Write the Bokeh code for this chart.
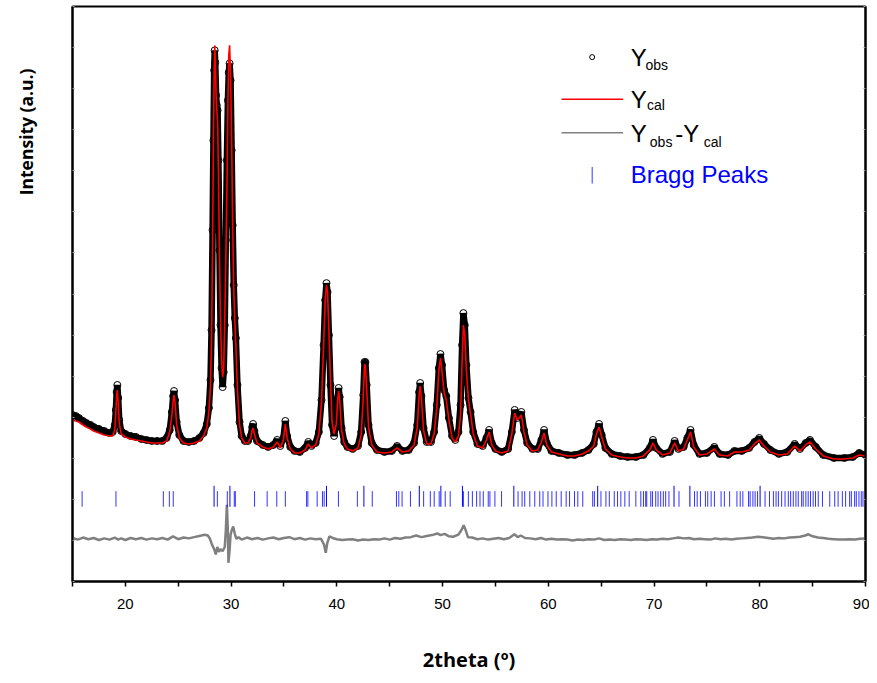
from bokeh.plotting import figure
from bokeh.models import Range1d, FixedTicker, SingleIntervalTicker, LinearAxis, Title
from bokeh.embed import file_html
from bokeh.resources import INLINE
from bokeh.core.properties import value

# ---------------- data ----------------
two_theta = [15.0, 15.3, 15.6, 16.0, 16.3, 16.7, 17.0, 17.5, 18.0, 18.5, 18.8, 19.0, 19.1, 19.18, 19.24, 19.32, 19.42, 19.6,
             20.0, 20.5, 21.0, 21.5, 22.0, 22.5, 23.0, 23.5, 23.9, 24.2, 24.4, 24.52, 24.6, 24.7, 24.85, 25.1, 25.5, 26.0,
             26.5, 27.0, 27.4, 27.7, 27.9, 28.05, 28.15, 28.25, 28.33, 28.4, 28.45, 28.5, 28.58, 28.65, 28.72, 28.8, 28.9,
             29.0, 29.1, 29.2, 29.3, 29.4, 29.5, 29.6, 29.7, 29.78, 29.86, 29.95, 30.05, 30.15, 30.25, 30.35, 30.45, 30.6,
             30.8, 31.0, 31.3, 31.6, 31.85, 32.0, 32.08, 32.2, 32.45, 33.0, 33.5, 34.0, 34.35, 34.65, 34.95, 35.13, 35.3,
             35.6, 36.0, 36.5, 37.0, 37.3, 37.6, 38.0, 38.3, 38.55, 38.75, 38.9, 39.02, 39.12, 39.25, 39.4, 39.55, 39.74,
             39.95, 40.08, 40.17, 40.27, 40.45, 40.7, 41.0, 41.5, 42.0, 42.3, 42.5, 42.62, 42.7, 42.82, 43.0, 43.3, 43.8,
             44.5, 45.2, 45.7, 46.2, 46.8, 47.3, 47.6, 47.78, 47.88, 48.0, 48.2, 48.5, 48.9, 49.2, 49.45, 49.65, 49.8,
             49.95, 50.15, 50.35, 50.6, 50.9, 51.2, 51.5, 51.7, 51.85, 51.97, 52.1, 52.25, 52.45, 52.65, 52.9, 53.3, 53.8,
             54.15, 54.4, 54.65, 55.0, 55.6, 56.2, 56.55, 56.82, 57.05, 57.25, 57.45, 57.7, 58.0, 58.5, 59.0, 59.35, 59.6,
             59.85, 60.3, 61.0, 61.8, 62.5, 63.2, 63.8, 64.3, 64.55, 64.8, 65.05, 65.4, 66.0, 66.8, 67.5, 68.3, 69.0, 69.6,
             69.9, 70.2, 70.8, 71.5, 71.95, 72.3, 72.8, 73.15, 73.45, 73.75, 74.3, 75.0, 75.7, 76.2, 77.0, 77.6, 78.3, 79.0,
             79.5, 79.95, 80.4, 81.0, 81.8, 82.6, 83.3, 83.8, 84.35, 84.75, 85.3, 86.0, 87.0, 88.0, 88.8, 89.4, 90.0]

y_obs = [4054, 4030, 3981, 3908, 3860, 3811, 3762, 3714, 3665, 3616, 3641, 3811, 4176, 4613, 4784, 4468, 3933, 3665,
         3592, 3543, 3519, 3471, 3446, 3422, 3422, 3422, 3495, 3689, 4127, 4516, 4638, 4419, 3884, 3568, 3422, 3397,
         3422, 3495, 3616, 3835, 4224, 4905, 6121, 8553, 10742, 12445, 12931, 12639, 11837, 11593, 11472, 10256, 8067,
         6243, 5198, 4735, 5100, 6243, 8310, 10256, 11715, 12396, 12615, 12201, 10499, 8675, 7216, 6413, 5927, 4784,
         3884, 3543, 3422, 3422, 3543, 3762, 3835, 3665, 3422, 3325, 3276, 3325, 3446, 3300, 3495, 3908, 3543,
         3276, 3179, 3154, 3252, 3397, 3300, 3373, 3641, 4419, 5757, 6851, 7264, 7045, 6000, 4784, 3811, 3543,
         3884, 4468, 4711, 4492, 3738, 3397, 3276, 3227, 3300, 3641, 4541, 5343, 5343, 4784, 3811, 3373, 3203,
         3154, 3179, 3300, 3179, 3203, 3373, 3811, 4613, 4832, 4516, 3738, 3397, 3397, 3641, 4297, 5198, 5538,
         5270, 4662, 4516, 3981, 3543, 3446, 3641, 4297, 5757, 6535, 6243, 5270, 4468, 4127, 3641, 3349, 3300,
         3495, 3689, 3373, 3227, 3154, 3227, 3641, 4176, 3981, 4030, 4127, 3689, 3373, 3227, 3227, 3446, 3689,
         3373, 3179, 3130, 3081, 3081, 3130, 3203, 3349, 3641, 3835, 3568, 3252, 3106, 3057, 3033, 3033, 3081, 3252,
         3446, 3252, 3106, 3154, 3422, 3227, 3276, 3495, 3689, 3325, 3106, 3130, 3276, 3106, 3081, 3179, 3179, 3252,
         3397, 3495, 3349, 3203, 3106, 3154, 3349, 3227, 3373, 3446, 3276, 3081, 3008, 3008, 3033, 3130, 3081]

y_cal = [3933, 3908, 3884, 3811, 3762, 3714, 3665, 3616, 3568, 3543, 3543, 3689, 4127, 4541, 4662, 4370, 3860, 3592,
         3519, 3471, 3446, 3422, 3397, 3373, 3373, 3373, 3422, 3641, 4054, 4419, 4541, 4346, 3811, 3495, 3373, 3349,
         3373, 3422, 3543, 3738, 4127, 4784, 5878, 8310, 10742, 12445, 13053, 12809, 11837, 11472, 11229, 10013, 7945,
         6365, 5392, 4978, 5198, 6365, 7824, 9405, 11715, 12809, 13053, 12323, 10742, 8675, 7094, 6365, 5757, 4662,
         3811, 3495, 3373, 3373, 3495, 3689, 3738, 3592, 3373, 3276, 3227, 3276, 3397, 3252, 3446, 3835, 3495,
         3227, 3130, 3130, 3203, 3349, 3252, 3325, 3592, 4370, 5757, 6851, 7216, 7045, 6121, 4905, 3884, 3592,
         3835, 4419, 4638, 4419, 3689, 3349, 3227, 3179, 3252, 3568, 4468, 5295, 5246, 4711, 3762, 3325, 3154,
         3130, 3154, 3252, 3154, 3179, 3325, 3738, 4541, 4760, 4468, 3689, 3349, 3349, 3592, 4224, 5149, 5440,
         5100, 4589, 4419, 3933, 3495, 3397, 3543, 4054, 5392, 6243, 6000, 5149, 4419, 4079, 3592, 3300, 3252,
         3446, 3641, 3325, 3179, 3130, 3179, 3592, 4103, 3933, 3981, 4054, 3641, 3325, 3179, 3203, 3397, 3616,
         3325, 3154, 3106, 3057, 3057, 3106, 3179, 3300, 3592, 3762, 3519, 3227, 3081, 3033, 3008, 3008, 3057, 3203,
         3373, 3203, 3081, 3130, 3373, 3179, 3227, 3446, 3641, 3276, 3081, 3106, 3227, 3081, 3057, 3154, 3154, 3203,
         3349, 3446, 3300, 3154, 3081, 3106, 3300, 3179, 3325, 3397, 3227, 3057, 2984, 2984, 3008, 3081, 3057]

two_theta_diff = [15.0, 15.5, 16.0, 16.5, 17.0, 17.5, 18.0, 18.5, 19.0, 19.3, 19.6, 20.0, 20.5, 21.0, 21.5, 22.0, 22.5,
                  23.0, 23.5, 24.0, 24.5, 25.0, 25.5, 26.0, 26.5, 27.0, 27.5, 27.8, 28.0, 28.2, 28.4, 28.55, 28.7,
                  28.85, 29.0, 29.2, 29.4, 29.5, 29.6, 29.68, 29.75, 29.85, 29.95, 30.05, 30.2, 30.35, 30.5, 30.7,
                  31.0, 31.5, 32.0, 32.5, 33.0, 33.5, 34.0, 34.5, 35.0, 35.5, 36.0, 36.5, 37.0, 37.5, 38.0, 38.5,
                  38.8, 38.95, 39.1, 39.3, 39.6, 40.0, 40.5, 41.0, 41.5, 42.0, 42.5, 43.0, 43.5, 44.0, 44.5, 45.0,
                  45.5, 46.0, 46.5, 47.0, 47.5, 48.0, 48.5, 49.0, 49.5, 49.8, 50.2, 50.6, 51.0, 51.5, 51.8, 52.0,
                  52.2, 52.4, 52.8, 53.3, 53.8, 54.3, 54.8, 55.3, 55.8, 56.3, 56.8, 57.1, 57.4, 57.8, 58.3, 58.8,
                  59.3, 59.8, 60.3, 60.8, 61.3, 61.8, 62.3, 62.8, 63.3, 63.8, 64.3, 64.8, 65.3, 65.8, 66.3, 66.8,
                  67.3, 67.8, 68.3, 68.8, 69.3, 69.8, 70.3, 70.8, 71.3, 71.8, 72.3, 72.8, 73.3, 73.8, 74.3, 74.8,
                  75.3, 75.8, 76.3, 76.8, 77.3, 77.8, 78.3, 78.8, 79.3, 79.8, 80.3, 80.8, 81.3, 81.8, 82.3, 82.8,
                  83.3, 83.8, 84.3, 84.6, 85.0, 85.5, 86.0, 86.5, 87.0, 87.5, 88.0, 88.5, 89.0, 89.5, 90.0]

y_diff = [20, -20, 30, -10, 20, -30, 10, -20, 30, -20, 10, -30, 20, -10, 20, -20, 10,
          -10, 20, -20, 60, -10, 30, 10, 40, 70, 100, 80, 0, -150, -250, -380, -200,
          -320, -250, -300, -200, 200, 830, 300, -585, -300, 100, 200, 300, 120, 0, 40,
          -20, 30, -10, 20, -20, 10, 30, -10, 20, 40, -10, 20, -20, 10, -10, 0,
          -150, -340, -100, 60, 20, -10, -30, -20, -10, -40, -20, -30, -10, -20, 10, -20,
          20, 0, 30, 40, 80, 40, 70, 90, 130, 90, 120, 60, 50, 100, 220, 330,
          200, 40, 30, -10, 10, -20, 0, 20, -10, 20, 110, 40, 80, 20, 10, -10,
          20, -20, 0, -20, -10, -20, -40, -20, -30, -10, -20, 10, -30, -20, -30, -10,
          -20, -30, -10, -20, -30, -10, -20, 0, -10, 10, 30, 10, 20, -10, 0, -10,
          -20, 10, -10, 0, -20, 0, 10, 20, 30, 50, 40, 20, 0, 20, 10, 30,
          40, 50, 80, 110, 60, 30, 20, 0, -10, -20, -20, -10, -20, 0, 10]

bragg_peaks = [15.91, 19.11, 23.59, 24.16, 24.53, 28.70, 29.64, 30.30, 30.40, 32.22, 33.41, 34.32, 35.13, 37.14,
               37.26, 38.14, 38.64, 38.80, 40.15, 41.94, 43.35, 45.64, 45.86, 46.17, 46.96, 48.21, 48.84, 49.21,
               49.68, 50.25, 50.72, 51.97, 52.44, 52.82, 53.22, 53.54, 53.85, 54.32, 54.48, 54.95, 55.58, 57.14,
               57.52, 57.77, 58.25, 58.72, 59.19, 59.50, 59.97, 60.34, 60.75, 61.22, 61.69, 62.01, 62.48, 62.79,
               63.26, 64.20, 64.36, 64.98, 65.45, 65.77, 66.24, 66.55, 66.86, 67.24, 67.65, 68.28, 68.75, 69.0,
               69.21, 69.31, 69.69, 69.85, 70.16, 70.38, 70.63, 70.88, 71.10, 71.41, 72.36, 73.83, 74.08, 74.39,
               74.86, 75.08, 75.40, 75.71, 76.34, 76.65, 77.15, 77.84, 78.15, 78.40, 78.94, 79.09, 79.35, 79.56,
               79.79, 80.50, 80.92, 81.29, 81.54, 81.76, 82.07, 82.39, 82.70, 82.92, 83.17, 83.42, 83.64, 83.96,
               84.11, 84.36, 84.58, 84.80, 85.05, 85.27, 85.53, 85.93, 86.62, 87.09, 87.41, 87.81, 88.12, 88.50,
               88.66, 88.97, 89.13, 89.38, 89.60, 89.76]
bragg_strong = [28.39, 29.89, 39.02, 42.56, 47.80, 49.84, 51.88, 56.74, 64.67, 71.89, 73.39, 80.03]

x_ticks = [20, 30, 40, 50, 60, 70, 80, 90]
x_minor = [15, 25, 35, 45, 55, 65, 75, 85]

# ---------------- placement constants ----------------
DIFF_OFFSET = 1040
TICK_LO, TICK_HI, TICK_HI_STRONG = 1820, 2200, 2330

p = figure(width=869, height=675, x_range=Range1d(15, 90), y_range=Range1d(0, 14000),
           output_backend="svg", toolbar_location=None,
           min_border_left=72, min_border_right=3, min_border_top=6, min_border_bottom=93)
p.xgrid.visible = False
p.ygrid.visible = False
p.outline_line_color = "black"
p.outline_line_width = 2
p.background_fill_color = "white"
p.border_fill_color = "white"

# x axis
xa = p.xaxis[0]
xa.ticker = FixedTicker(ticks=x_ticks, minor_ticks=x_minor)
xa.axis_line_width = 2
xa.major_tick_out = 5
xa.major_tick_in = 0
xa.minor_tick_out = 5
xa.minor_tick_in = 0
xa.major_tick_line_width = 1.5
xa.minor_tick_line_width = 1.5
xa.major_label_text_font = "Liberation Sans"
xa.major_label_text_font_size = "15px"
xa.major_label_text_color = "black"
xa.major_label_standoff = 12
xa.axis_label = "2theta (º)"
xa.axis_label_text_font = "Open Sans"
xa.axis_label_text_font_style = "bold"
xa.axis_label_text_font_size = "20px"
xa.axis_label_text_color = "black"
xa.axis_label_standoff = 34

# y axes - tiny inward ticks only, no labels drawn
ya = p.yaxis[0]
ya.ticker = SingleIntervalTicker(interval=1000)
ra = LinearAxis(ticker=SingleIntervalTicker(interval=1000))
p.add_layout(ra, "right")
for ax in (ya, ra):
    ax.axis_line_width = 2
    ax.major_tick_out = 0
    ax.major_tick_in = 2
    ax.major_tick_line_color = "#999999"
    ax.minor_tick_line_color = None
    ax.major_label_text_font_size = "1px"
    ax.major_label_text_color = None
    ax.major_label_standoff = 0

# invisible spacer axis pushing the y title outward
spacer = LinearAxis(ticker=SingleIntervalTicker(interval=1000))
spacer.axis_line_color = None
spacer.major_tick_line_color = None
spacer.minor_tick_line_color = None
spacer.major_tick_out = 31
spacer.major_tick_in = 0
spacer.major_label_text_font_size = "1px"
spacer.major_label_text_color = None
spacer.major_label_standoff = 0
p.add_layout(spacer, "left")

# y axis title, placed toward the top of the left side as in the reference
p.add_layout(Title(text="Intensity (a.u.)", align="right", offset=62, standoff=0,
                   text_font="Open Sans", text_font_style="bold", text_font_size="17.5px",
                   text_color="black"), "left")

# observed (thick band + open circles)
p.line(two_theta, y_obs, line_color="black", line_width=6.5)
p.scatter(two_theta, y_obs, marker="circle", size=7, fill_color=None, line_color="black", line_width=1)
# calculated
p.line(two_theta, y_cal, line_color="#ff0000", line_width=1.6)
# difference
p.line(two_theta_diff, [v + DIFF_OFFSET for v in y_diff], line_color="#808080", line_width=2.5)
# Bragg ticks
p.segment(x0=bragg_peaks, y0=TICK_LO, x1=bragg_peaks, y1=TICK_HI, line_color="#0000ff", line_width=1, line_alpha=0.8)
p.segment(x0=bragg_strong, y0=TICK_LO, x1=bragg_strong, y1=TICK_HI_STRONG, line_color="#0000ff", line_width=1)

# ---------------- legend (manual, with subscripts) ----------------
LF = value("Liberation Sans")
p.scatter([64.15], [12768], marker="circle", size=5, fill_color=None, line_color="black", line_width=1)
p.text([67.8], [12760], text=["Y"], text_font=LF, text_font_size="24px", text_baseline="alphabetic")
p.text([69.19], [12574], text=["obs"], text_font=LF, text_font_size="14px", text_baseline="alphabetic")

p.line([61.25, 67.07], [11739, 11739], line_color="#ff0000", line_width=1.5)
p.text([67.8], [11747], text=["Y"], text_font=LF, text_font_size="24px", text_baseline="alphabetic")
p.text([69.34], [11601], text=["cal"], text_font=LF, text_font_size="14px", text_baseline="alphabetic")

p.line([61.25, 67.07], [10929, 10929], line_color="#808080", line_width=1.5)
p.text([67.8], [10913], text=["Y"], text_font=LF, text_font_size="24px", text_baseline="alphabetic")
p.text([69.6], [10694], text=["obs"], text_font=LF, text_font_size="14px", text_baseline="alphabetic")
p.text([72.0], [10913], text=["-Y"], text_font=LF, text_font_size="24px", text_baseline="alphabetic")
p.text([74.7], [10694], text=["cal"], text_font=LF, text_font_size="14px", text_baseline="alphabetic")

p.segment(x0=[64.15], y0=[9689], x1=[64.15], y1=[10093], line_color="#0000ff", line_width=1, line_alpha=0.8)
p.text([67.8], [9899], text=["Bragg Peaks"], text_font=LF, text_font_size="24px", text_baseline="alphabetic",
       text_color="#0000ff")

open("out.html", "w").write(file_html(p, INLINE))
